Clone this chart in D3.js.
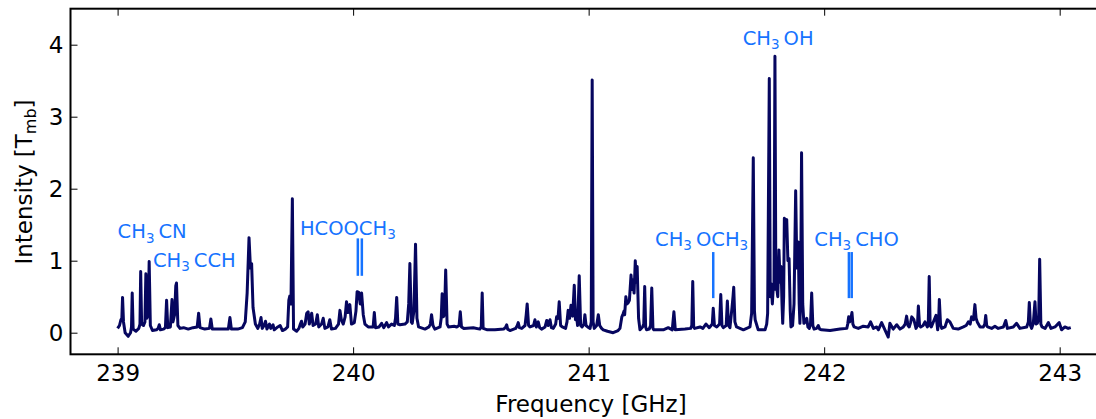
<!DOCTYPE html>
<html>
<head>
<meta charset="utf-8">
<script src="https://cdn.jsdelivr.net/npm/d3@7"></script>
<style>
  body { margin: 0; background: #fff; }
  svg { display: block; }
</style>
</head>
<body>
<svg id="chart" width="1096" height="419"></svg>
<script>
// spectrum, [frequency GHz, T_mb]
var spectrum239 = [
  [239.000,0.06],[239.008,0.10],[239.014,0.18],[239.018,0.20],[239.021,0.49],[239.025,0.15],[239.032,0.00],
  [239.045,-0.05],[239.055,0.00],[239.059,0.08],[239.062,0.55],[239.066,0.05],[239.078,0.02],[239.090,0.06],
  [239.095,0.12],[239.098,0.85],[239.102,0.12],[239.110,0.10],[239.116,0.15],[239.120,0.82],[239.124,0.20],
  [239.130,0.25],[239.134,0.99],[239.139,0.10],[239.148,0.03],[239.165,0.04],[239.172,0.06],[239.177,0.11],
  [239.182,0.04],[239.195,0.05],[239.203,0.07],[239.208,0.45],[239.213,0.07],[239.224,0.08],[239.231,0.46],
  [239.235,0.15],[239.242,0.25],[239.247,0.65],[239.250,0.69],[239.256,0.10],[239.265,0.06],[239.280,0.07],
  [239.300,0.05],[239.320,0.07],[239.338,0.08],[239.344,0.27],[239.350,0.07],[239.370,0.05],[239.390,0.06],
  [239.396,0.19],[239.402,0.05],[239.420,0.05],[239.450,0.05],[239.470,0.05],[239.477,0.21],[239.483,0.05]
];

var spectrum239b = [
  [239.510,0.05],[239.530,0.07],[239.542,0.15],[239.550,0.55],[239.558,1.32],[239.564,0.90],[239.569,0.96],
  [239.575,0.35],[239.585,0.12],[239.595,0.06],[239.603,0.12],[239.609,0.21],[239.614,0.06],[239.622,0.10],
  [239.628,0.16],[239.634,0.05],[239.645,0.12],[239.650,0.06],[239.660,0.11],[239.665,0.04],[239.680,0.08],
  [239.690,0.10],[239.700,0.03],[239.712,0.05],[239.722,0.08],[239.727,0.45],[239.731,0.51],[239.736,0.40],
  [239.742,1.86],[239.747,0.05],[239.760,0.02],[239.770,0.06],[239.776,0.12],[239.781,0.16],[239.786,0.08],
  [239.796,0.12],[239.803,0.27],[239.809,0.29],[239.814,0.12],[239.824,0.27],[239.830,0.10],[239.841,0.12],
  [239.848,0.25],[239.854,0.08],[239.866,0.12],[239.873,0.20],[239.880,0.06],[239.893,0.08],[239.901,0.18],
  [239.908,0.05],[239.925,0.06],[239.938,0.12],[239.944,0.31],[239.950,0.18],[239.958,0.12],[239.966,0.22],
  [239.972,0.43],[239.978,0.28],[239.986,0.39],[239.993,0.12],[240.005,0.14]
];

var spectrum240 = [
  [240.012,0.30],[240.017,0.57],[240.024,0.56],[240.030,0.40],[240.036,0.55],[240.043,0.25],[240.050,0.12],
  [240.064,0.08],[240.085,0.08],[240.090,0.28],[240.095,0.07],[240.110,0.08],[240.121,0.13],[240.130,0.07],
  [240.142,0.14],[240.150,0.08],[240.163,0.12],[240.175,0.10],[240.180,0.20],[240.185,0.49],[240.190,0.12],
  [240.199,0.11],[240.220,0.12],[240.230,0.15],[240.236,0.40],[240.241,0.96],[240.247,0.15],[240.251,0.13],
  [240.258,0.30],[240.265,1.23],[240.271,0.20],[240.278,0.08],[240.305,0.05],[240.322,0.08],[240.328,0.12],
  [240.333,0.25],[240.339,0.10],[240.347,0.05],[240.369,0.08],[240.374,0.20],[240.378,0.54],[240.383,0.22],
  [240.388,0.25],[240.393,0.87],[240.399,0.12],[240.405,0.08],[240.429,0.09],[240.440,0.08],[240.450,0.10],
  [240.455,0.29],[240.460,0.08],[240.470,0.06],[240.510,0.07],[240.538,0.05],[240.544,0.08],[240.548,0.55],
  [240.552,0.06],[240.570,0.04],[240.602,0.04],[240.640,0.05],[240.648,0.08],[240.652,0.11],[240.656,0.05],
  [240.666,0.03],[240.690,0.06],[240.697,0.10],[240.701,0.14],[240.706,0.07],[240.716,0.06],[240.730,0.10],
  [240.735,0.25],[240.739,0.40],[240.745,0.10],[240.751,0.08],[240.766,0.10],[240.772,0.18],[240.778,0.08],
  [240.786,0.15],[240.792,0.07],[240.800,0.05],[240.815,0.08],[240.822,0.17],[240.828,0.10],[240.836,0.18],
  [240.842,0.07],[240.850,0.06],[240.860,0.12],[240.864,0.22],[240.870,0.20],[240.875,0.43],[240.881,0.10],
  [240.888,0.08],[240.902,0.06],[240.908,0.15],[240.913,0.31],[240.919,0.20],[240.925,0.38],[240.932,0.23],
  [240.939,0.66],[240.944,0.18],[240.947,0.29],[240.953,0.10],[240.960,0.79],[240.966,0.10],[240.972,0.08],
  [240.980,0.12],[240.984,0.25],[240.989,0.10],[240.996,0.08]
];

var spectrum241 = [
  [241.006,0.06],[241.011,0.15],[241.015,3.51],[241.019,0.15],[241.024,0.06],[241.034,0.10],[241.041,0.25],
  [241.047,0.10],[241.055,0.06],[241.062,0.04],[241.080,0.02],[241.104,0.00],[241.125,0.03],[241.133,0.06],
  [241.141,0.22],[241.146,0.26],[241.150,0.30],[241.153,0.25],[241.158,0.50],[241.163,0.40],[241.167,0.41],
  [241.173,0.45],[241.180,0.80],[241.184,0.60],[241.188,0.73],[241.193,0.55],[241.198,1.00],[241.202,0.70],
  [241.206,0.92],[241.212,0.20],[241.218,0.04],[241.229,0.08],[241.234,0.12],[241.238,0.64],[241.242,0.08],
  [241.246,0.04],[241.257,0.05],[241.263,0.10],[241.268,0.62],[241.273,0.06],[241.277,0.04],[241.317,0.04],
  [241.338,0.07],[241.355,0.04],[241.362,0.29],[241.368,0.04],[241.409,0.05],[241.433,0.06],[241.438,0.10],
  [241.442,0.71],[241.446,0.08],[241.450,0.06],[241.473,0.08],[241.485,0.06],[241.498,0.12],[241.512,0.07],
  [241.525,0.12],[241.529,0.34],[241.534,0.10],[241.544,0.08],[241.556,0.12],[241.561,0.53],[241.566,0.10],
  [241.572,0.07],[241.584,0.10],[241.589,0.44],[241.594,0.10],[241.600,0.07],[241.609,0.36],[241.613,0.50],
  [241.616,0.63],[241.621,0.15],[241.628,0.08],[241.657,0.04],[241.685,0.08],[241.692,0.27],[241.699,2.43],
  [241.704,0.30],[241.707,0.18],[241.720,0.04],[241.749,0.04],[241.756,0.12],[241.760,0.27],[241.767,3.53],
  [241.771,0.50],[241.775,0.68],[241.780,0.40],[241.784,0.64],[241.787,0.60],[241.791,3.84],[241.795,0.60],
  [241.798,0.64],[241.803,0.50],[241.808,1.15],[241.813,0.70],[241.817,0.92],[241.821,0.40],[241.824,0.13],
  [241.828,0.50],[241.831,1.59],[241.836,1.55],[241.841,1.57],[241.846,1.00],[241.851,1.03],[241.856,0.30],
  [241.859,0.08],[241.866,0.10],[241.872,0.40],[241.879,1.97],[241.884,0.90],[241.890,1.26],[241.894,0.40],
  [241.897,0.13],[241.900,0.50],[241.904,2.50],[241.909,0.40],[241.914,0.13],[241.920,0.15],[241.926,0.20],
  [241.931,0.08],[241.937,0.06],[241.942,0.12],[241.947,0.55],[241.952,0.10],[241.957,0.05],[241.968,0.06],
  [241.975,0.10],[241.981,0.05],[241.989,0.04]
];

var spectrum242 = [
  [242.025,0.03],[242.067,0.05],[242.096,0.06],[242.100,0.12],[242.104,0.22],[242.108,0.15],[242.112,0.17],
  [242.118,0.28],[242.122,0.12],[242.127,0.08],[242.145,0.06],[242.166,0.09],[242.187,0.08],[242.197,0.15],
  [242.209,0.06],[242.223,0.08],[242.230,0.04],[242.244,0.14],[242.258,0.04],[242.272,-0.06],[242.279,0.13],
  [242.293,0.05],[242.308,0.11],[242.322,0.05],[242.336,0.08],[242.344,0.12],[242.350,0.23],[242.356,0.10],
  [242.361,0.08],[242.367,0.14],[242.372,0.22],[242.381,0.18],[242.390,0.06],[242.396,0.10],[242.400,0.37],
  [242.405,0.10],[242.410,0.08],[242.420,0.10],[242.428,0.15],[242.438,0.08],[242.442,0.12],[242.446,0.78],
  [242.450,0.10],[242.455,0.08],[242.466,0.17],[242.475,0.24],[242.480,0.10],[242.482,0.04],[242.486,0.15],
  [242.489,0.46],[242.494,0.12],[242.499,0.06],[242.513,0.08],[242.523,0.18],[242.534,0.15],[242.548,0.06],
  [242.569,0.05],[242.591,0.08],[242.603,0.10],[242.612,0.15],[242.620,0.12],[242.626,0.22],[242.634,0.18],
  [242.640,0.39],[242.645,0.20],[242.650,0.15],[242.662,0.08],[242.676,0.08],[242.682,0.12],[242.686,0.24],
  [242.690,0.10],[242.694,0.08],[242.711,0.06],[242.725,0.09],[242.739,0.06],[242.761,0.08],[242.771,0.17],
  [242.778,0.06],[242.803,0.08],[242.817,0.13],[242.831,0.06],[242.860,0.08],[242.867,0.15],[242.871,0.42],
  [242.876,0.10],[242.881,0.06],[242.888,0.13],[242.895,0.43],[242.900,0.12],[242.905,0.13],[242.911,0.20],
  [242.915,1.02],[242.920,0.12],[242.925,0.08],[242.938,0.06],[242.952,0.14],[242.963,0.06],[242.980,0.08],
  [242.998,0.14],[243.008,0.04],[243.022,0.08],[243.036,0.06],[243.047,0.07]
];

// molecule labels (_n = subscript) and where they sit, in data units
var labelText = ['CH_3CN', 'CH_3CCH', 'HCOOCH_3', 'CH_3OCH_3', 'CH_3CHO', 'CH_3OH'];
var labelFreq = [239.0, 239.15, 239.774, 241.282, 241.958, 241.654];
var labelT    = [1.31, 0.91, 1.36, 1.21, 1.21, 4.0];

// transition markers
var markerFreq = [240.020, 240.037, 241.529, 242.105, 242.117];
var markerLow  = [0.79, 0.79, 0.48, 0.48, 0.48];
var markerHigh = [1.31, 1.31, 1.12, 1.12, 1.12];

var xTicks = [239, 240, 241, 242, 243];
var yTicks = [0, 1, 2, 3, 4];

var spectrum = [].concat(spectrum239, spectrum239b, spectrum240, spectrum241, spectrum242);

var FONT = 'DejaVu Sans';
var BLUE = '#1673ff';
var svg = d3.select('#chart');

var x = d3.scaleLinear().domain([238.8, 243.22]).range([70.5, 1111.5]);
var y = d3.scaleLinear().domain([-0.3, 4.5]).range([354.3, 8.7]);

// axes (ticks point inwards)
var bottom = svg.append('g')
  .attr('transform', 'translate(0,' + y(-0.3) + ')')
  .call(d3.axisBottom(x).tickValues(xTicks).tickFormat(d3.format('d')).tickSize(-7).tickPadding(10));
var top_ = svg.append('g')
  .attr('transform', 'translate(0,' + y(4.5) + ')')
  .call(d3.axisTop(x).tickValues(xTicks).tickFormat('').tickSize(-7));
var left = svg.append('g')
  .attr('transform', 'translate(' + x(238.8) + ',0)')
  .call(d3.axisLeft(y).tickValues(yTicks).tickFormat(d3.format('d')).tickSize(-7).tickPadding(7));

[bottom, top_, left].forEach(function(g) {
  g.select('.domain').remove();
  g.selectAll('.tick line').attr('stroke', '#000').attr('stroke-width', 1);
  g.selectAll('text').attr('font-family', FONT).attr('font-size', 23).attr('fill', '#000');
});

// spectrum line
var line = d3.line().x(function(d) { return x(d[0]); }).y(function(d) { return y(d[1]); });
svg.append('path')
  .datum(spectrum)
  .attr('d', line)
  .attr('fill', 'none')
  .attr('stroke', '#06065f')
  .attr('stroke-width', 3)
  .attr('stroke-linejoin', 'round');

// frame
svg.append('rect')
  .attr('x', x(238.8)).attr('y', y(4.5))
  .attr('width', x(243.22) - x(238.8)).attr('height', y(-0.3) - y(4.5))
  .attr('fill', 'none').attr('stroke', '#000').attr('stroke-width', 2);

// markers
svg.selectAll('.marker').data(markerFreq).enter().append('line')
  .attr('class', 'marker')
  .attr('x1', function(d) { return x(d); }).attr('x2', function(d) { return x(d); })
  .attr('y1', function(d, i) { return y(markerLow[i]); })
  .attr('y2', function(d, i) { return y(markerHigh[i]); })
  .attr('stroke', BLUE).attr('stroke-width', 2.5);

// labels with subscripts
labelText.forEach(function(txt, i) {
  var t = svg.append('text')
    .attr('x', x(labelFreq[i])).attr('y', y(labelT[i]))
    .attr('font-family', FONT).attr('font-size', 19.5).attr('fill', BLUE);
  var parts = txt.split(/_(\d)/);
  parts.forEach(function(p, k) {
    if (p === '') return;
    if (k % 2 === 1) {
      t.append('tspan').attr('font-size', 13.5).attr('dy', 4.3).text(p);
    } else {
      var ts = t.append('tspan').text(p);
      if (k > 0) ts.attr('dy', -4.3).attr('dx', 4);
    }
  });
});

// axis titles
svg.append('text')
  .attr('x', x(241.01)).attr('y', 411.5)
  .attr('text-anchor', 'middle')
  .attr('font-family', FONT).attr('font-size', 23)
  .text('Frequency [GHz]');

var yl = svg.append('text')
  .attr('transform', 'translate(31.5,182) rotate(-90)')
  .attr('text-anchor', 'middle')
  .attr('font-family', FONT).attr('font-size', 23);
yl.append('tspan').text('Intensity [T');
yl.append('tspan').attr('font-size', 16).attr('dy', 4).text('mb');
yl.append('tspan').attr('dy', -4).text(']');
</script>
</body>
</html>
